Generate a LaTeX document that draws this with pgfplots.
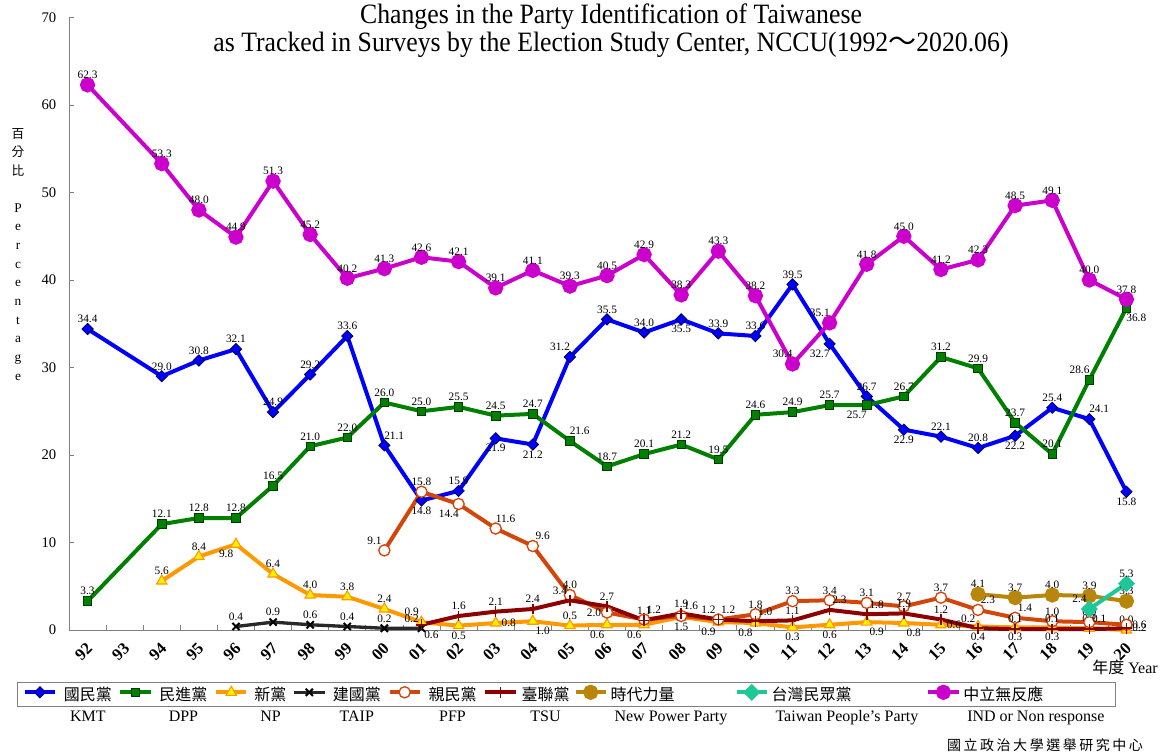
\documentclass[border=0pt]{standalone}
\usepackage{pgfplots}
\pgfplotsset{compat=1.18}
\usepackage{pgfplotstable}
\usepackage{fontspec}
\setmainfont{Liberation Serif}
\newfontfamily\cjk{Noto Sans CJK TC}
\newfontfamily\cjksp{Noto Sans CJK TC}[LetterSpace=18]
\newfontfamily\titlefont{Liberation Serif}[FakeStretch=0.92]

\definecolor{kmt}{RGB}{0,0,255}
\definecolor{kmtedge}{RGB}{0,0,90}
\definecolor{dpp}{RGB}{0,128,0}
\definecolor{dppedge}{RGB}{0,60,0}
\definecolor{np}{RGB}{255,153,0}
\definecolor{npfill}{RGB}{255,240,0}
\definecolor{taip}{RGB}{40,40,40}
\definecolor{pfp}{RGB}{210,70,10}
\definecolor{tsu}{RGB}{140,0,0}
\definecolor{npp}{RGB}{184,134,11}
\definecolor{tpp}{RGB}{30,200,150}
\definecolor{ind}{RGB}{204,0,204}

% x: 0 = 1992 ... 28 = 2020 ; a = label anchor angle
\pgfplotstableread{
x y a
0 34.4 270
2 29.0 270
3 30.8 270
4 32.1 270
5 24.9 270
6 29.2 270
7 33.6 270
8 21.1 225
9 14.8 90
10 15.9 270
11 21.9 90
12 21.2 90
13 31.2 315
14 35.5 270
15 34.0 270
16 35.5 90
17 33.9 270
18 33.6 270
19 39.5 270
20 32.7 45
21 26.7 270
22 22.9 90
23 22.1 270
24 20.8 270
25 22.2 90
26 25.4 270
27 24.1 225
28 15.8 90
}\kmt

\pgfplotstableread{
x y a
0 3.3 270
2 12.1 270
3 12.8 270
4 12.8 270
5 16.5 270
6 21.0 270
7 22.0 270
8 26.0 270
9 25.0 270
10 25.5 270
11 24.5 270
12 24.7 270
13 21.6 225
14 18.7 270
15 20.1 270
16 21.2 270
17 19.5 270
18 24.6 270
19 24.9 270
20 25.7 270
21 25.7 45
22 26.7 270
23 31.2 270
24 29.9 270
25 23.7 270
26 20.1 270
27 28.6 315
28 36.8 135
}\dpp

\pgfplotstableread{
x y a
2 5.6 270
3 8.4 270
4 9.8 45
5 6.4 270
6 4.0 270
7 3.8 270
8 2.4 270
9 0.9 315
10 0.5 90
11 0.8 180
12 1.0 135
13 0.5 270
14 0.6 45
15 0.6 45
16 1.5 90
17 0.9 45
18 0.8 45
19 0.3 90
20 0.6 90
21 0.9 135
22 0.8 135
23 0.6 180
24 0.4 90
25 0.3 90
26 0.3 90
27 0.2 270
28 0.0 270
}\np

\pgfplotstableread{
x y a
4 0.4 270
5 0.9 270
6 0.6 270
7 0.4 270
8 0.2 270
9 0.2 315
}\taip

\pgfplotstableread{
x y a
8 9.1 315
9 15.8 270
10 14.4 45
11 11.6 225
12 9.6 225
13 4.0 270
14 2.0 0
15 1.2 225
16 1.6 225
17 1.2 225
18 1.8 270
19 3.3 270
20 3.4 270
21 3.1 270
22 2.7 270
23 3.7 270
24 2.3 225
25 1.4 225
26 1.0 270
27 0.9 270
28 0.6 180
}\pfp

\pgfplotstableread{
x y a
9 0.6 135
10 1.6 270
11 2.1 270
12 2.4 270
13 3.4 315
14 2.7 270
15 1.1 270
16 1.9 270
17 1.2 315
18 1.0 225
19 1.1 270
20 2.3 225
21 1.8 225
22 1.9 270
23 1.2 270
24 0.2 315
25 0.1 270
26 0.1 270
27 0.1 225
28 0.2 180
}\tsu

\pgfplotstableread{
x y a
24 4.1 270
25 3.7 270
26 4.0 270
27 3.9 270
28 3.3 270
}\npp

\pgfplotstableread{
x y a
27 2.4 315
28 5.3 270
}\tpp

\pgfplotstableread{
x y a
0 62.3 270
2 53.3 270
3 48.0 270
4 44.9 270
5 51.3 270
6 45.2 270
7 40.2 270
8 41.3 270
9 42.6 270
10 42.1 270
11 39.1 270
12 41.1 270
13 39.3 270
14 40.5 270
15 42.9 270
16 38.3 270
17 43.3 270
18 38.2 270
19 30.4 315
20 35.1 315
21 41.8 270
22 45.0 270
23 41.2 270
24 42.3 270
25 48.5 270
26 49.1 270
27 40.0 270
28 37.8 270
}\ind

% value labels, drawn by a separate plot that has no legend entry
\pgfplotsset{
  lbl/.style={
    draw=none, mark=none, forget plot,
    point meta=explicit symbolic,
    visualization depends on={y \as \rawy},
    nodes near coords={\pgfmathprintnumber[fixed,zerofill,precision=1]{\rawy}},
    every node near coord/.append style={font=\fontsize{8.5}{9}\selectfont,
      text=black, anchor=\pgfplotspointmeta, inner sep=1pt, outer sep=3.5pt},
  },
}

\begin{document}
\begin{tikzpicture}
\useasboundingbox (0,0) rectangle (871.5pt,-564.75pt);
\begin{axis}[
    at={(51.75pt,-472.5pt)}, anchor=south west,
    width=807pt, height=459.375pt, scale only axis,
    xmin=-0.5, xmax=28.5, ymin=0, ymax=70,
    clip=false,
    axis lines*=left,
    axis line style={gray, line width=0.6pt},
    xtick={0,...,28},
    xticklabels={92,93,94,95,96,97,98,99,00,01,02,03,04,05,06,07,08,09,10,11,12,13,14,15,16,17,18,19,20},
    major x tick style={draw=none},
    minor xtick={0.5,1.5,...,27.5},
    minor tick length=4pt,
    minor tick style={gray, line width=0.6pt},
    ytick={0,10,...,70},
    major tick length=4pt,
    ytick style={gray, line width=0.6pt},
    /pgf/number format/assume math mode=true,
    yticklabel style={font=\fontsize{11}{12}\selectfont, xshift=-6pt},
    xticklabel style={font=\bfseries\fontsize{12.5}{13}\selectfont, anchor=center, xshift=-3pt, yshift=-16.5pt, rotate=45},
    legend columns=9,
    legend style={at={(-0.0483,-0.0849)}, anchor=north west, draw=gray, line width=0.6pt,
      font=\fontsize{12}{16}\selectfont, inner xsep=4pt, inner ysep=2pt,
      nodes={inner xsep=2pt, inner ysep=1pt},
      /tikz/every even column/.append style={column sep=0pt}},
    legend image code/.code={\draw[mark repeat=2,mark phase=2,#1,yshift=1.5pt] plot coordinates {(0cm,0cm) (0.4cm,0cm) (0.8cm,0cm)};},
]
\addplot[kmt, line width=3pt, mark=square*, mark size=3pt,
  mark options={rotate=45, fill=kmt, draw=kmtedge, line width=0.6pt, solid}]
  table[x=x,y=y]{\kmt};
\addlegendentry{\parbox[t]{42pt}{\centering{\cjk 國民黨}\\KMT}}
\addplot[lbl] table[x=x,y=y,meta=a]{\kmt};
\addplot[dpp, line width=3pt, mark=square*, mark size=3.2pt,
  mark options={fill=dpp, draw=dppedge, line width=0.6pt, solid}]
  table[x=x,y=y]{\dpp};
\addlegendentry{\parbox[t]{42pt}{\centering{\cjk 民進黨}\\DPP}}
\addplot[lbl] table[x=x,y=y,meta=a]{\dpp};
\addplot[np, line width=3pt, mark=triangle*, mark size=4.5pt,
  mark options={fill=npfill, draw=np, line width=0.8pt, solid}]
  table[x=x,y=y]{\np};
\addlegendentry{\parbox[t]{29pt}{\centering{\cjk 新黨}\\NP}}
\addplot[lbl] table[x=x,y=y,meta=a]{\np};
\addplot[taip, line width=2.5pt, mark=x, mark size=3.8pt,
  mark options={draw=black, line width=1.5pt, solid}]
  table[x=x,y=y]{\taip};
\addlegendentry{\parbox[t]{42pt}{\centering{\cjk 建國黨}\\TAIP}}
\addplot[lbl] table[x=x,y=y,meta=a]{\taip};
\addplot[pfp, line width=3pt, mark=*, mark size=4.2pt,
  mark options={fill=white, draw=pfp, line width=1pt, solid}]
  table[x=x,y=y]{\pfp};
\addlegendentry{\parbox[t]{42pt}{\centering{\cjk 親民黨}\\PFP}}
\addplot[lbl] table[x=x,y=y,meta=a]{\pfp};
\addplot[tsu, line width=3pt, mark=+, mark size=4pt,
  mark options={draw=tsu, line width=1.2pt, solid}]
  table[x=x,y=y]{\tsu};
\addlegendentry{\parbox[t]{38pt}{\centering{\cjk 臺聯黨}\\TSU}}
\addplot[lbl] table[x=x,y=y,meta=a]{\tsu};
\addplot[npp, line width=3pt, mark=*, mark size=4.2pt,
  mark options={fill=npp, draw=npp, solid}]
  table[x=x,y=y]{\npp};
\addlegendentry{\parbox[t]{91pt}{\raggedright{\cjk 時代力量}\\\hspace*{3pt}New Power Party}}
\addplot[lbl] table[x=x,y=y,meta=a]{\npp};
\addplot[tpp, line width=3pt, mark=square*, mark size=3pt,
  mark options={rotate=45, fill=tpp, draw=tpp, solid}]
  table[x=x,y=y]{\tpp};
\addlegendentry{\parbox[t]{114pt}{\raggedright{\cjk 台灣民眾黨}\\\hspace*{3pt}Taiwan People's Party}}
\addplot[lbl] table[x=x,y=y,meta=a]{\tpp};
\addplot[ind, line width=3pt, mark=*, mark size=4.2pt,
  mark options={fill=ind, draw=ind, solid}]
  table[x=x,y=y]{\ind};
\addlegendentry{\parbox[t]{108pt}{\raggedright{\cjk 中立無反應}\\\hspace*{3pt}IND or Non response}}
\addplot[lbl] table[x=x,y=y,meta=a]{\ind};
\end{axis}
\begin{scope}[x=0.75pt,y=-0.75pt]
\node[font=\titlefont\fontsize{21}{21}\selectfont, align=center] at (611,31)
  {Changes in the Party Identification of Taiwanese\\as Tracked in Surveys by the Election Study Center, NCCU(1992{\cjk ～}2020.06)};
\node[font=\cjk\fontsize{9.5}{13.9}\selectfont, align=center] at (18,152) {百\\分\\比};
\node[font=\fontsize{10}{14}\selectfont, align=center] at (18,292) {P\\e\\r\\c\\e\\n\\t\\a\\g\\e};
\node[font=\fontsize{12}{12}\selectfont] at (1125,667) {{\cjk 年度} Year};
\node[font=\cjksp\fontsize{10.5}{11}\selectfont] at (1045,745) {國立政治大學選舉研究中心};
\end{scope}
\end{tikzpicture}
\end{document}
